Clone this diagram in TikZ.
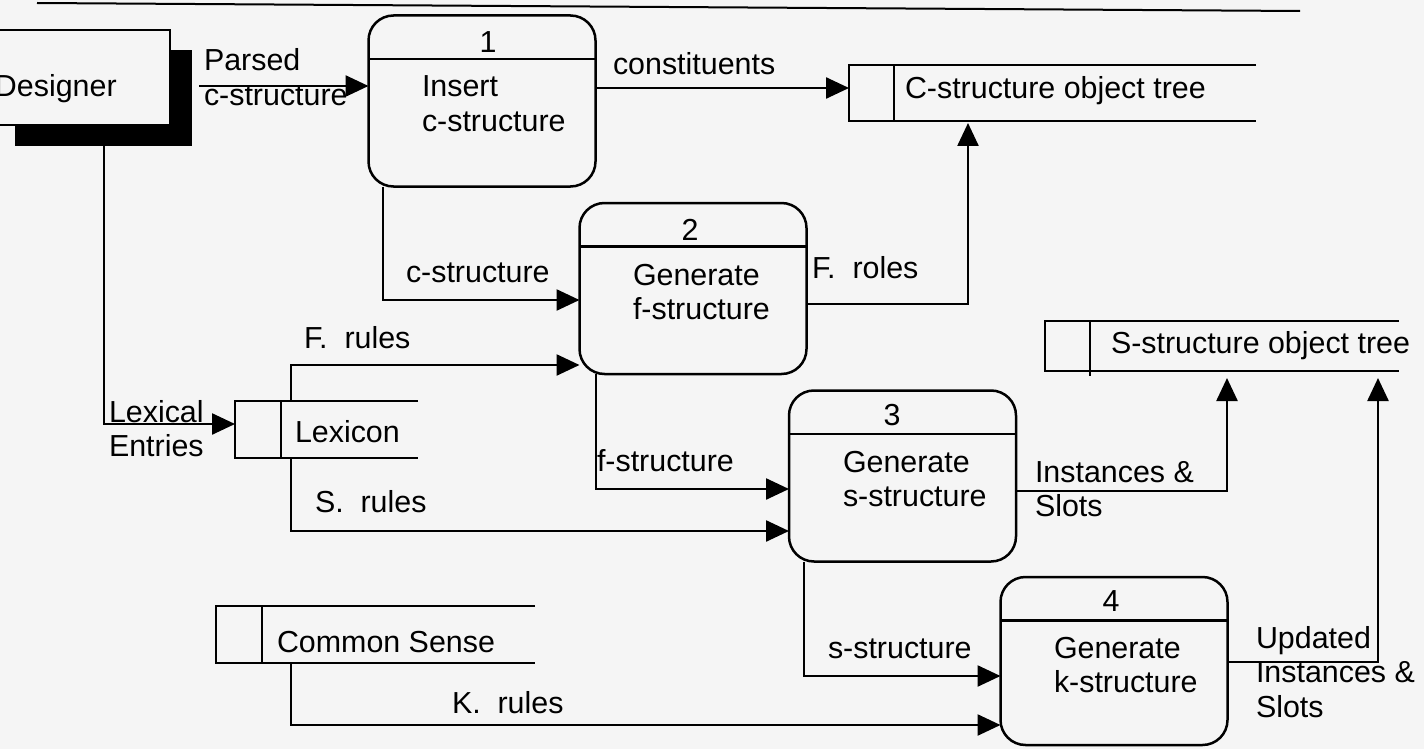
\documentclass[tikz,border=0pt]{standalone}
\usepackage{fontspec}
\setmainfont{Liberation Sans}
\usetikzlibrary{arrows.meta,calc}
\definecolor{paper}{HTML}{F5F5F5}
% multi-line label whose baseline is that of its first line
\newcommand{\stacktext}[1]{\begin{tabular}[t]{@{}l@{}}#1\end{tabular}}
\begin{document}
\begin{tikzpicture}[x=0.5pt,y=-0.5pt,
  font=\fontsize{15.2pt}{17.3pt}\selectfont,
  every node/.style={inner sep=0pt, outer sep=0pt},
  line/.style={line width=1.25pt, line join=miter},
  flow/.style={line, -{Triangle[length=11.5pt,width=10.5pt]}},
  proc/.style={draw, line width=1.25pt, rounded corners=12.5pt,
    minimum width=113.5pt, minimum height=85.5pt, fill=paper},
  lbl/.style={anchor=base west},
  num/.style={anchor=base},
]
% page
\fill[paper] (0,0) rectangle (1424,749);
\useasboundingbox (0,0) rectangle (1424,749);
\clip (0,0) rectangle (1424,749);

% header rule
\coordinate (r1) at (37,3);
\coordinate (r2) at (1300,11);
\draw[line width=1pt] (r1) -- (r2);

% external entity with its shadow
\fill (15,50) rectangle (192,146);
\node[draw, line width=1.25pt, fill=paper, minimum width=87.5pt, minimum height=47.5pt] (des) at (82.5,77.5) {};
\node[lbl] (destxt) at (-5,97) {Designer};

% processes
\node[proc] (p1) at (482,101) {};
\node[proc] (p2) at (693,288.5) {};
\node[proc] (p3) at (902.5,476) {};
\node[proc, minimum height=84pt] (p4) at (1114,661) {};
\foreach \p in {p1,p2,p3,p4}
  \draw[line] ([yshift=-21.75pt]\p.north west) -- ([yshift=-21.75pt]\p.north east);

\node[num] (p1n) at (488,53) {1};
\node[lbl] (p1t) at (422,97) {\stacktext{Insert\\c-structure}};
\node[num] (p2n) at (690,240) {2};
\node[lbl] (p2t) at (633,285) {\stacktext{Generate\\f-structure}};
\node[num] (p3n) at (892,425) {3};
\node[lbl] (p3t) at (843,472) {\stacktext{Generate\\s-structure}};
\node[num] (p4n) at (1111,611) {4};
\node[lbl] (p4t) at (1054,658) {\stacktext{Generate\\k-structure}};

% data stores
\node[minimum width=203.5pt, minimum height=28pt] (cs) at (1052.5,93) {};
\node[minimum width=177pt, minimum height=25pt] (ss) at (1222,346) {};
\node[minimum width=91.5pt, minimum height=28.5pt] (lex) at (326.5,429.5) {};
\node[minimum width=159.5pt, minimum height=28.5pt] (cms) at (375.5,634.5) {};
\foreach \s/\d in {cs/22.5pt,ss/22.5pt,lex/23pt,cms/23pt}{
  \draw[line] (\s.north east) -- (\s.north west) -- (\s.south west) -- (\s.south east);
  \draw[line] ([xshift=\d]\s.north west) -- ([xshift=\d]\s.south west);
}
\draw[line] ([xshift=22.5pt]ss.south west) -- ([xshift=22.5pt,yshift=-2.5pt]ss.south west);
\node[lbl] (cst) at (905,99) {C-structure object tree};
\node[lbl] (sst) at (1111,353) {S-structure object tree};
\node[lbl] (lext) at (295,442) {Lexicon};
\node[lbl] (cmst) at (277,652) {Common Sense};

% data flows
\coordinate (ps) at (199,86);
\draw[flow] (ps) -- (ps -| p1.west);

\coordinate (d1) at ([xshift=10.75pt]des.south);
\coordinate (l1) at ([yshift=2.75pt]lex.west);
\draw[flow] (d1) |- (l1);

\coordinate (o1) at ([yshift=6.5pt]p1.east);
\draw[flow] (o1) -- (o1 -| cs.west);

\coordinate (o2) at ([xshift=-49.5pt]p1.south);
\coordinate (i2) at ([yshift=-5.75pt]p2.west);
\draw[flow] (o2) |- (i2);

\coordinate (o3) at ([yshift=-7.75pt]p2.east);
\coordinate (i3) at ([xshift=-42.25pt]cs.south);
\draw[flow, shorten >=1pt] (o3) -| (i3);

\coordinate (o4) at ([xshift=-17.75pt]lex.north);
\coordinate (i4) at ([yshift=-38.25pt]p2.west);
\draw[flow] (o4) |- (i4);

\coordinate (o5) at ([xshift=-48.5pt]p2.south);
\coordinate (i5) at ([yshift=-6.5pt]p3.west);
\draw[flow] (o5) |- (i5);

\coordinate (o6) at ([xshift=-17.75pt]lex.south);
\coordinate (i6) at ([yshift=-27.5pt]p3.west);
\draw[flow] (o6) |- (i6);

\coordinate (o7) at ([yshift=-7.5pt]p3.east);
\coordinate (i7) at ([xshift=2.5pt]ss.south);
\draw[flow, shorten >=3.5pt] (o7) -| (i7);

\coordinate (o8) at ([xshift=-49.25pt]p3.south);
\coordinate (i8) at ([yshift=-7.5pt]p4.west);
\draw[flow] (o8) |- (i8);

\coordinate (o9) at ([xshift=-42.25pt]cms.south);
\coordinate (i9) at ([yshift=-32pt]p4.west);
\draw[flow] (o9) |- (i9);

\coordinate (o10) at ([yshift=-0.5pt]p4.east);
\coordinate (i10) at ([xshift=78pt]ss.south);
\draw[flow, shorten >=3.5pt] (o10) -| (i10);

% flow labels
\node[lbl] (fl1) at (204,71) {\stacktext{Parsed\\c-structure}};
\node[lbl] (fl2) at (109,422) {\stacktext{Lexical\\Entries}};
\node[lbl] (fl3) at (613,75) {constituents};
\node[lbl] (fl4) at (406,282) {c-structure};
\node[lbl] (fl5) at (812,278) {F.\ \ roles};
\node[lbl] (fl6) at (304,348) {F.\ \ rules};
\node[lbl] (fl7) at (597,471) {f-structure};
\node[lbl] (fl8) at (315,512) {S.\ \ rules};
\node[lbl] (fl9) at (1035,482) {\stacktext{Instances \&\\Slots}};
\node[lbl] (fl10) at (828,658) {s-structure};
\node[lbl] (fl11) at (452,713) {K.\ \ rules};
\node[lbl] (fl12) at (1256,648) {\stacktext{Updated\\Instances \&\\Slots}};
\end{tikzpicture}
\end{document}
